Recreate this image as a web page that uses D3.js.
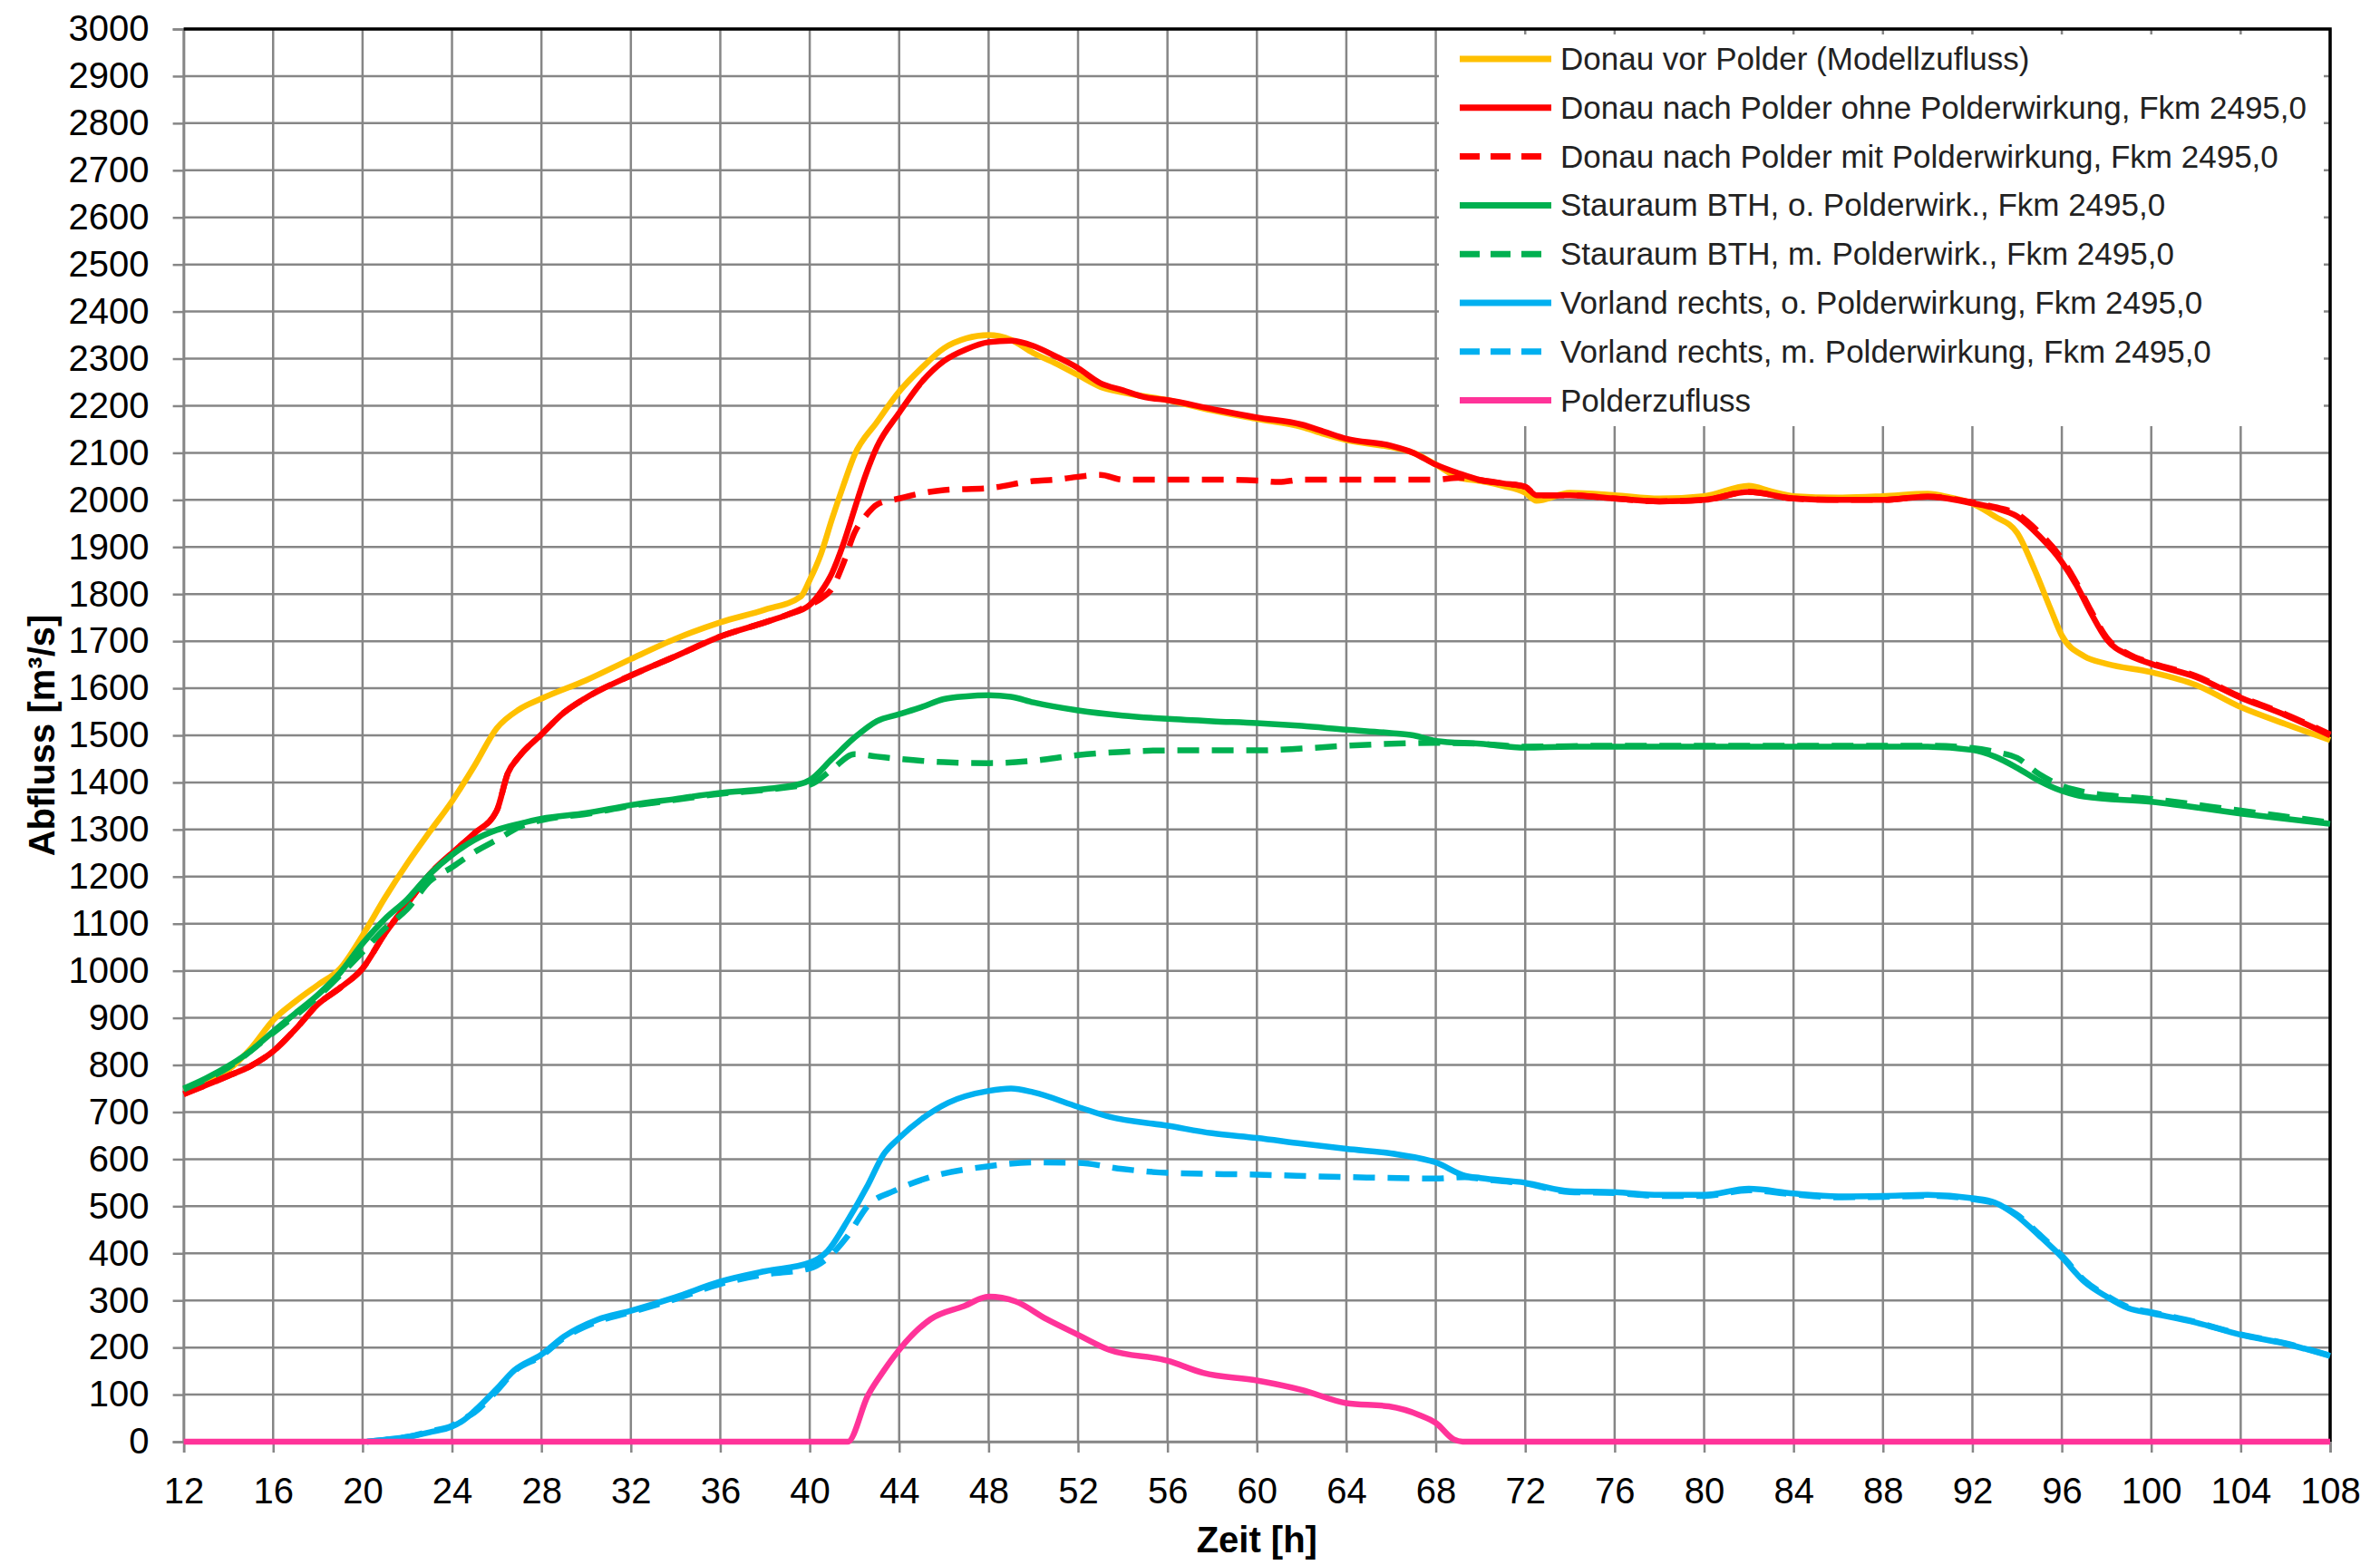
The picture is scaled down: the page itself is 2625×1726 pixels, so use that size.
<!DOCTYPE html>
<html>
<head>
<meta charset="utf-8">
<script src="https://cdn.jsdelivr.net/npm/d3@7"></script>
<style>
  html, body { margin: 0; padding: 0; background: #fff; }
  svg { display: block; font-family: "Liberation Sans", Arial, sans-serif; }
</style>
</head>
<body>
<svg id="chart" width="2625" height="1726"></svg>
<script>
// Abflussganglinien [h, m³/s]
const donauVorPolder = [[12,748],[13,765],[14,790],[15,835],[16,895],[17,935],[18,970],[19,1005],[20,1075],[21,1155],[22,1228],[23,1295],[24,1360],[25,1435],[26,1515],[27,1555],[28,1578],[30,1617],[32,1662],[34,1705],[36,1740],[38,1767],[39.6,1795],[40,1830],[40.5,1885],[41,1960],[41.5,2030],[42,2095],[43,2165],[44,2230],[45,2280],[46,2322],[47,2343],[48,2350],[49,2340],[50,2312],[51,2290],[52,2265],[53,2240],[54,2228],[56,2212],[58,2190],[60,2172],[62,2155],[63,2140],[64,2127],[66,2112],[67,2100],[68,2075],[69,2048],[70,2040],[71,2030],[72,2015],[72.5,1998],[74,2015],[76,2010],[78,2003],[80,2008],[82,2030],[83,2018],[84,2008],[86,2005],[88,2008],[90,2013],[91,2005],[92,1992],[93,1965],[94,1930],[94.8,1850],[95.5,1768],[96,1712],[97,1668],[98,1652],[100,1634],[102,1607],[104,1560],[106,1524],[108,1490]];

const donauOhnePolder = [[12,738],[13,757],[14,777],[15,798],[16,829],[17,876],[18,929],[19,964],[20,1005],[21,1079],[22,1142],[23,1205],[24,1250],[25,1292],[26,1340],[26.5,1420],[27,1455],[28,1502],[29,1548],[30,1580],[32,1627],[34,1668],[36,1710],[38,1740],[39,1756],[40,1777],[40.5,1805],[41,1845],[41.5,1906],[42,1980],[42.5,2053],[43,2112],[44,2185],[45,2250],[46,2295],[47,2320],[48,2335],[49,2338],[50,2327],[51,2305],[52,2280],[53,2248],[54,2233],[55,2218],[56,2212],[58,2193],[60,2175],[62,2160],[63,2145],[64,2130],[66,2115],[67,2100],[68,2075],[69,2057],[70,2042],[71,2035],[72,2028],[72.5,2010],[74,2010],[76,2003],[78,1997],[80,2000],[82,2017],[84,2003],[86,2000],[88,2000],[90,2007],[92,1993],[93,1983],[94,1965],[95,1923],[96,1868],[96.7,1815],[97.3,1760],[98,1704],[99,1670],[100,1652],[102,1624],[104,1580],[106,1543],[108,1500]];

const donauMitPolder = [[12,738],[13,757],[14,777],[15,798],[16,829],[17,876],[18,929],[19,964],[20,1005],[21,1079],[22,1142],[23,1205],[24,1250],[25,1292],[26,1340],[26.5,1420],[27,1455],[28,1502],[29,1548],[30,1580],[32,1627],[34,1668],[36,1710],[38,1740],[39,1756],[40,1777],[40.5,1790],[41,1812],[41.5,1865],[42,1930],[42.5,1966],[43,1990],[44,2003],[45,2014],[46,2021],[48,2025],[50,2040],[51,2043],[52,2049],[53,2053],[54,2043],[56,2043],[58,2043],[60,2041],[61,2038],[62,2043],[64,2043],[66,2043],[68,2043],[69,2047],[70,2042],[71,2035],[72,2028],[72.5,2010],[74,2010],[76,2003],[78,1997],[80,2000],[82,2017],[84,2003],[86,2000],[88,2000],[90,2007],[92,1995],[93,1985],[94,1970],[95,1930],[96,1875],[96.7,1820],[97.3,1765],[98,1708],[99,1672],[100,1654],[102,1626],[104,1582],[106,1545],[108,1502]];

const stauraumOhne = [[12,750],[13,772],[14,798],[15,830],[16,871],[17,910],[18,949],[19,996],[20,1058],[21,1110],[22,1152],[23,1205],[24,1246],[25,1278],[26,1299],[27,1312],[28,1323],[30,1335],[32,1352],[34,1365],[36,1378],[38,1386],[39.6,1397],[40,1405],[41,1450],[42,1495],[43,1530],[44,1545],[45,1560],[46,1577],[47,1583],[48,1585],[49,1582],[50,1570],[52,1553],[54,1542],[56,1535],[58,1530],[60,1526],[62,1520],[64,1512],[66,1505],[67,1500],[68,1488],[70,1482],[72,1474],[74,1476],[76,1476],[80,1476],[84,1476],[88,1476],[90,1476],[92,1469],[93,1455],[94,1431],[95,1403],[96,1382],[97,1370],[100,1359],[104,1334],[108,1312]];

const stauraumMit = [[12,748],[14,795],[16,868],[18,945],[20,1040],[21,1090],[22,1131],[23,1190],[24,1220],[25,1252],[26,1278],[27,1305],[28,1320],[30,1333],[32,1350],[34,1363],[36,1376],[38,1384],[39.6,1393],[40,1395],[41,1428],[42,1460],[43,1455],[44,1450],[46,1443],[48,1441],[50,1446],[52,1458],[54,1465],[56,1468],[60,1468],[62,1472],[64,1478],[66,1482],[68,1484],[70,1482],[72,1476],[76,1478],[80,1478],[84,1478],[88,1478],[90,1478],[92,1473],[93,1465],[94,1452],[95,1417],[96,1393],[97,1380],[100,1365],[104,1340],[108,1315]];

const vorlandOhne = [[20.2,0],[21,4],[22,10],[23,20],[24,32],[24.5,45],[25,65],[26,112],[26.8,152],[28,185],[29,223],[30.5,259],[32,278],[34,307],[36,340],[38,362],[40,380],[40.8,405],[41.7,470],[42.6,545],[43.3,610],[44,645],[45,685],[46.2,720],[48,745],[49,750],[50,742],[52,711],[53.4,690],[56,671],[58,655],[60,645],[62,633],[64,622],[66.3,610],[68,593],[69.3,565],[70,560],[72,550],[74,532],[76,530],[78,524],[80,524],[82,537],[84,527],[86,521],[88,522],[90,524],[92,517],[93,508],[94,479],[95,437],[96,392],[97,340],[98,308],[99,283],[100,273],[102,253],[104,227],[106,208],[108,182]];

const vorlandMit = [[20.2,0],[21,4],[22,10],[23,22],[24,34],[24.5,48],[25,62],[26,108],[26.8,150],[28,182],[29,220],[30.5,255],[32,275],[34,303],[36,335],[38,355],[40,368],[40.8,390],[41.7,437],[42.6,501],[43.8,533],[45.4,562],[48,585],[50,593],[52,592],[54,579],[56,571],[60,567],[64,562],[68,559],[69.3,562],[70,558],[72,548],[74,530],[76,528],[78,522],[80,522],[82,534],[84,525],[86,519],[88,520],[90,522],[92,515],[93,506],[94,482],[95,440],[96,395],[97,343],[98,310],[99,285],[100,275],[102,254],[104,228],[106,209],[108,183]];

const polderzufluss = [[12,0],[41.7,0],[42.6,98],[43.3,150],[44,195],[45.4,260],[46.9,288],[48,308],[49.2,298],[50.6,260],[52,227],[53.4,195],[56,172],[57.6,146],[60,130],[62,110],[64,82],[65.9,75],[67.3,56],[68,40],[68.8,5],[69.2,0],[108,0]];

const seriesNames = [
  "Donau vor Polder (Modellzufluss)",
  "Donau nach Polder ohne Polderwirkung, Fkm 2495,0",
  "Donau nach Polder mit Polderwirkung, Fkm 2495,0",
  "Stauraum BTH, o. Polderwirk., Fkm 2495,0",
  "Stauraum BTH, m. Polderwirk., Fkm 2495,0",
  "Vorland rechts, o. Polderwirkung, Fkm 2495,0",
  "Vorland rechts, m. Polderwirkung, Fkm 2495,0",
  "Polderzufluss"
];
const seriesData = [donauVorPolder, donauOhnePolder, donauMitPolder, stauraumOhne, stauraumMit, vorlandOhne, vorlandMit, polderzufluss];
const seriesColors = ["#FFC000", "#FF0000", "#FF0000", "#00B050", "#00B050", "#00B0F0", "#00B0F0", "#FF3399"];
const seriesDashed = [false, false, true, false, true, false, true, false];

const xTicks = d3.range(12, 109, 4);
const yTicks = d3.range(0, 3001, 100);

// ---- layout ----
const svg = d3.select("#chart");
const plot = { left: 202.6, right: 2570, top: 32, bottom: 1590 };
const x = d3.scaleLinear().domain([12, 108]).range([plot.left, plot.right]);
const y = d3.scaleLinear().domain([0, 3000]).range([plot.bottom, plot.top]);
const gridColor = "#868686";

svg.append("rect").attr("width", 2625).attr("height", 1726).attr("fill", "#fff");

// grid
const grid = svg.append("g");
grid.selectAll("line.h").data(yTicks).join("line")
  .attr("x1", plot.left).attr("x2", plot.right)
  .attr("y1", d => y(d)).attr("y2", d => y(d))
  .attr("stroke", gridColor).attr("stroke-width", 2.5);
grid.selectAll("line.v").data(xTicks).join("line")
  .attr("y1", plot.top).attr("y2", plot.bottom)
  .attr("x1", d => x(d)).attr("x2", d => x(d))
  .attr("stroke", gridColor).attr("stroke-width", 2.5);

// axes
const yAxis = svg.append("g").attr("transform", `translate(${plot.left},0)`)
  .call(d3.axisLeft(y).tickValues(yTicks).tickSize(12).tickPadding(26).tickFormat(d3.format("d")));
const xAxis = svg.append("g").attr("transform", `translate(0,${plot.bottom})`)
  .call(d3.axisBottom(x).tickValues(xTicks).tickSize(12).tickPadding(28).tickFormat(d3.format("d")));
[yAxis, xAxis].forEach(g => {
  g.select(".domain").attr("stroke", gridColor).attr("stroke-width", 2.5);
  g.selectAll(".tick line").attr("stroke", gridColor).attr("stroke-width", 2.5);
  g.selectAll(".tick text").attr("fill", "#000").style("font-size", "40px")
    .style("font-family", '"Liberation Sans", Arial, sans-serif');
});

// frame: top and right edges
svg.append("path")
  .attr("d", `M${plot.left},${plot.top}H${plot.right}V${plot.bottom}`)
  .attr("fill", "none").attr("stroke", "#000").attr("stroke-width", 3.5);

// legend background
const legend = { x0: 1587, x1: 2563, y0: 38, y1: 470, rowY: 65, rowStep: 53.8 };
svg.append("rect")
  .attr("x", legend.x0).attr("y", legend.y0)
  .attr("width", legend.x1 - legend.x0).attr("height", legend.y1 - legend.y0)
  .attr("fill", "#fff");

// series
const line = d3.line().x(d => x(d[0])).y(d => y(d[1])).curve(d3.curveMonotoneX);
const lines = svg.append("g");
seriesData.forEach((data, i) => {
  lines.append("path")
    .datum(data)
    .attr("d", line)
    .attr("fill", "none")
    .attr("stroke", seriesColors[i])
    .attr("stroke-width", 6.5)
    .attr("stroke-linejoin", "round")
    .attr("stroke-dasharray", seriesDashed[i] ? "24,14" : null);
});

// legend entries
const lg = svg.append("g");
seriesNames.forEach((name, i) => {
  const yy = legend.rowY + i * legend.rowStep;
  lg.append("line")
    .attr("x1", 1610).attr("x2", 1711).attr("y1", yy).attr("y2", yy)
    .attr("stroke", seriesColors[i]).attr("stroke-width", 7)
    .attr("stroke-dasharray", seriesDashed[i] ? "22,12" : null);
  lg.append("text")
    .attr("x", 1721).attr("y", yy + 12)
    .attr("fill", "#222")
    .style("font-size", "35px")
    .text(name);
});

// axis titles
svg.append("text")
  .attr("x", (plot.left + plot.right) / 2).attr("y", 1712)
  .attr("text-anchor", "middle")
  .style("font-size", "40px").style("font-weight", "bold")
  .text("Zeit [h]");
svg.append("text")
  .attr("transform", `translate(60,${(plot.top + plot.bottom) / 2}) rotate(-90)`)
  .attr("text-anchor", "middle")
  .style("font-size", "40px").style("font-weight", "bold")
  .text("Abfluss [m³/s]");
</script>
</body>
</html>
